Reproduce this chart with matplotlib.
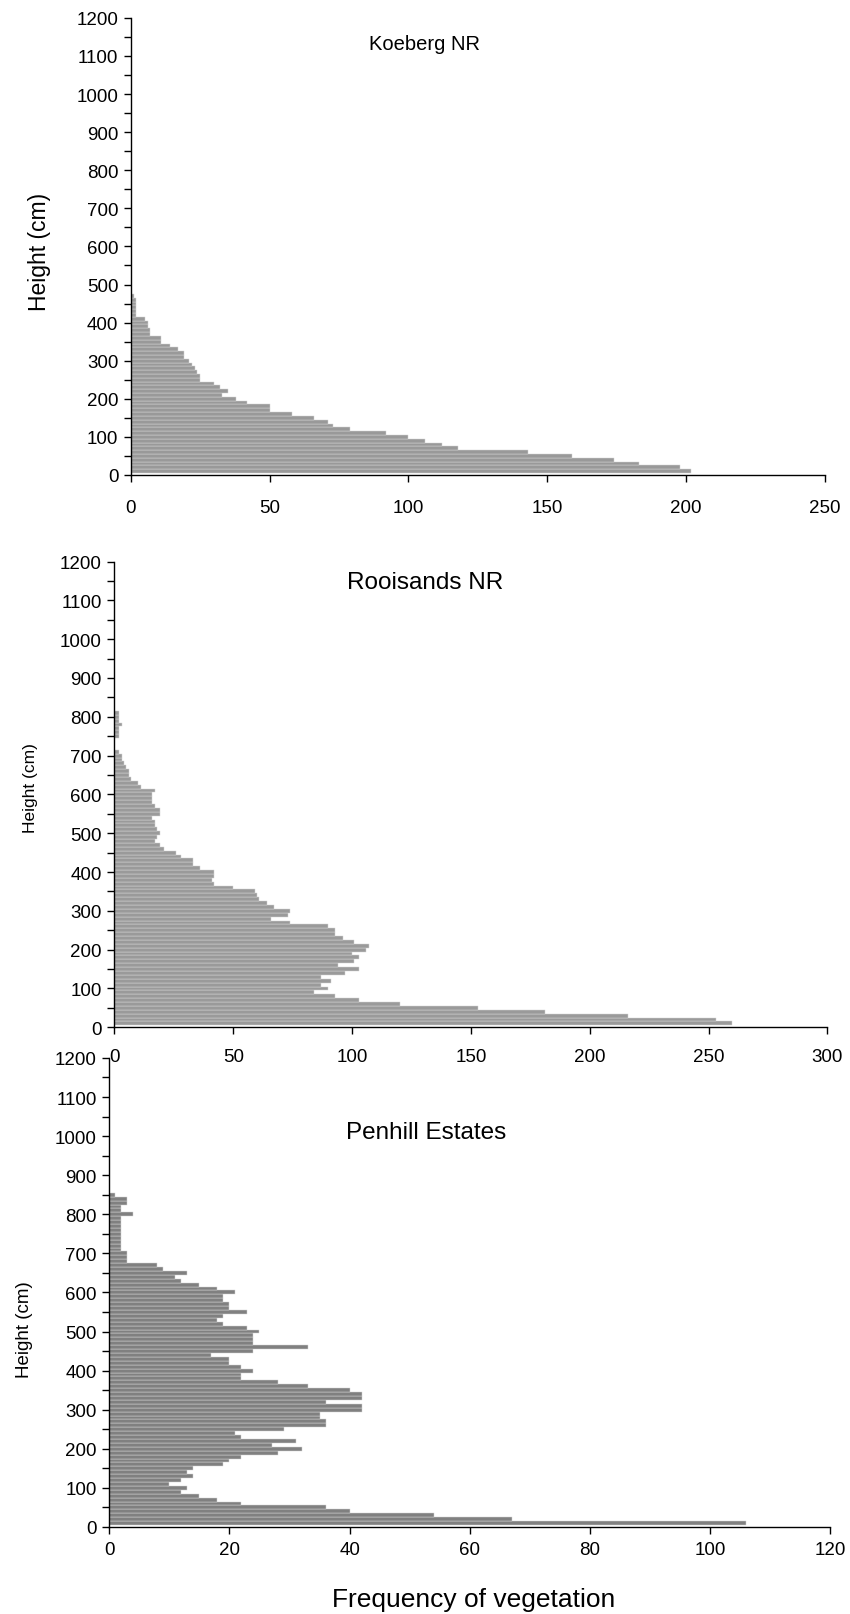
import numpy as np
import matplotlib.pyplot as plt
from matplotlib.ticker import MultipleLocator

plt.rcParams['font.family'] = ['Liberation Sans', 'DejaVu Sans']

# vegetation counts per 10 cm height class, listed from the 10 cm class upwards
koeberg = [202, 198, 183, 174, 159, 143, 118, 112, 106, 100,
           92, 79, 73, 71, 66, 58, 50, 50, 42, 38,
           33, 35, 32, 30, 25, 25, 24, 23, 22, 21,
           19, 19, 17, 14, 11, 11, 7, 7, 6, 6,
           5, 2, 2, 2, 2, 2, 1]

rooisands = [260, 253, 216, 181, 153, 120, 103, 93, 84, 90,
             87, 91, 87, 97, 103, 94, 101, 103, 100, 106,
             107, 101, 96, 93, 93, 90, 74, 66, 73, 74,
             67, 64, 61, 60, 59, 50, 42, 41, 42, 42,
             36, 33, 33, 28, 26, 21, 19, 17, 18, 19,
             18, 17, 17, 16, 19, 19, 17, 16, 16, 16,
             17, 11, 10, 7, 6, 6, 5, 4, 3, 3,
             2, 0, 0, 0, 2, 2, 2, 3, 2, 2,
             2]

penhill = [106, 67, 54, 40, 36, 22, 18, 15, 12, 13,
           10, 12, 14, 13, 14, 19, 20, 22, 28, 32,
           27, 31, 22, 21, 29, 36, 36, 35, 35, 42,
           42, 36, 42, 42, 40, 33, 28, 22, 22, 24,
           22, 20, 20, 17, 24, 33, 24, 24, 24, 25,
           23, 19, 18, 19, 23, 20, 20, 19, 19, 21,
           18, 15, 12, 11, 13, 9, 8, 3, 3, 3,
           2, 2, 2, 2, 2, 2, 2, 2, 2, 4,
           2, 2, 3, 3, 1]

titles = ['Koeberg NR', 'Rooisands NR', 'Penhill Estates']
xmax = [250, 300, 120]
xstep = [50, 50, 20]

fig = plt.figure(figsize=(8.5, 16.15), dpi=100)

# axes boxes in figure fractions
boxes = [[0.154, 0.7053, 0.816, 0.283],
         [0.1346, 0.3633, 0.8388, 0.2884],
         [0.1285, 0.0539, 0.8485, 0.2904]]
colors = ['#999999', '#9a9a9a', '#808080']
xpad = [12, 10, 5]
title_pos = [(0.424, 0.945, 14.5), (0.436, 0.956, 17.5), (0.44, 0.842, 17.5)]
ylab_pos = [(0.046, 0.844, 16.5), (0.036, 0.512, 12.5), (0.029, 0.177, 13.5)]

for i, counts in enumerate([koeberg, rooisands, penhill]):
    ax = fig.add_axes(boxes[i])
    ax.patch.set_visible(False)  # panels sit close, keep tick labels visible
    heights = 10 * np.arange(1, len(counts) + 1)
    ax.barh(heights, counts, height=10, color=colors[i],
            edgecolor='#d4d4d4', linewidth=0.35)

    ax.set_xlim(0, xmax[i])
    ax.set_ylim(0, 1200)
    ax.xaxis.set_major_locator(MultipleLocator(xstep[i]))
    ax.yaxis.set_major_locator(MultipleLocator(100))
    ax.yaxis.set_minor_locator(MultipleLocator(50))
    ax.tick_params(axis='both', which='major', direction='out', length=5,
                   width=1, labelsize=13.5, pad=4)
    ax.tick_params(axis='x', pad=xpad[i])
    ax.tick_params(axis='y', which='minor', direction='out', length=5, width=1)

    for side in ['top', 'right']:
        ax.spines[side].set_visible(False)
    for side in ['left', 'bottom']:
        ax.spines[side].set_linewidth(1)

    tx, ty, ts = title_pos[i]
    ax.text(tx, ty, titles[i], transform=ax.transAxes, ha='center',
            va='center', fontsize=ts)

    lx, ly, ls = ylab_pos[i]
    fig.text(lx, ly, 'Height (cm)', rotation=90, ha='center', va='center',
             fontsize=ls)

fig.text(0.5576, 0.0093, 'Frequency of vegetation', ha='center',
         va='center', fontsize=19)

fig.savefig('out.png', dpi=100)
